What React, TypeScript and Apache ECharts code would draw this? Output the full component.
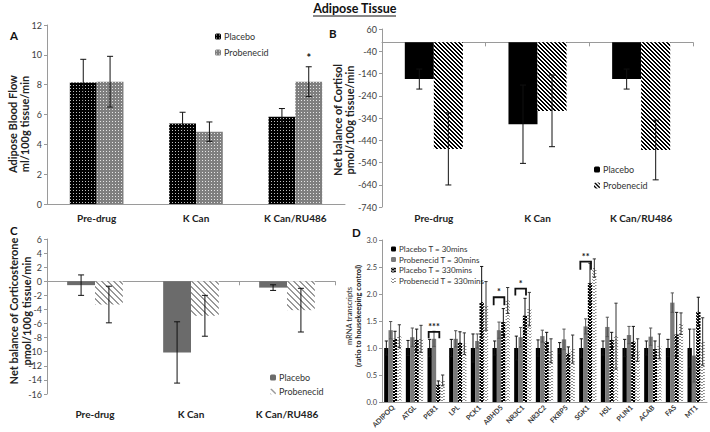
import React, { useEffect, useRef } from 'react';
import * as echarts from 'echarts';

const FONT = 'Lato';

// Panels A–C: treatment groups
const groups = ['Pre-drug', 'K Can', 'K Can/RU486'];

// A: Adipose blood flow (ml/100g tissue/min)
const flowPlacebo = [8.15, 5.4, 5.85];
const flowPlaceboErr = [1.55, 0.75, 0.55];
const flowProbenecid = [8.2, 4.85, 8.2];
const flowProbenecidErr = [1.7, 0.65, 1.0];

// B: Net balance of cortisol (pmol/100g tissue/min)
const cortisolPlacebo = [-165, -368, -165];
const cortisolPlaceboErr = [45, 176, 45];
const cortisolProbenecid = [-479, -308, -484];
const cortisolProbenecidErr = [162, 161, 134];

// C: Net balance of corticosterone (pmol/100g tissue/min)
const corticoPlacebo = [-0.55, -10.1, -0.9];
const corticoPlaceboErr = [1.45, 4.35, 0.4];
const corticoProbenecid = [-3.3, -4.9, -4.1];
const corticoProbenecidErr = [2.6, 2.9, 3.1];

// D: mRNA transcripts (ratio to housekeeping control)
const genes = ['ADIPOQ', 'ATGL', 'PER1', 'LPL', 'PCK1', 'ABHD5', 'NR3C1', 'NR3C2', 'FKBP5', 'SGK1', 'HSL', 'PLIN1', 'ACAB', 'FAS', 'MT1'];
const placebo30 = [1, 1, 1, 1, 1, 1, 1, 1, 1, 1, 1, 1, 1, 1, 1];
const placebo30Err = [0.13, 0.14, 0.16, 0.16, 0.26, 0.13, 0.22, 0.15, 0.1, 0.17, 0.13, 0.16, 0.13, 0.16, 0.35];
const probenecid30 = [1.33, 1.2, 1.17, 1.17, 1.13, 1.33, 1.2, 1.22, 1.16, 1.4, 1.39, 1.24, 1.21, 1.84, 0.86];
const probenecid30Err = [0.16, 0.17, 0.14, 0.15, 0.13, 0.15, 0.18, 0.11, 0.19, 0.14, 0.18, 0.16, 0.16, 0.18, 0.49];
const placebo330 = [1.17, 1.15, 0.32, 1.1, 1.85, 1.48, 1.6, 1.12, 0.9, 2.2, 1.15, 1.12, 0.98, 1.25, 1.67];
const placebo330Err = [0.14, 0.2, 0.07, 0.2, 0.66, 0.25, 0.32, 0.17, 0.12, 0.37, 0.14, 0.28, 0.15, 0.41, 0.27];
const probenecid330 = [1.22, 1.17, 0.4, 1.08, 1.78, 1.88, 1.72, 0.95, 0.98, 2.48, 1.22, 0.96, 1.03, 1.45, 1.12];
const probenecid330Err = [0.21, 0.25, 0.1, 0.2, 0.45, 0.24, 0.31, 0.22, 0.26, 0.17, 0.61, 0.21, 0.23, 0.2, 0.44];

// significance brackets (placebo T=30 vs placebo T=330)
const sigGeneIndex = [2, 5, 6, 9];
const sigTop = [1.3, 1.94, 2.1, 2.6];
const sigLeg = [1.18, 1.79, 1.97, 2.45];
const sigLabels = ['***', '*', '*', '**'];

// panel A asterisk
const flowSigGroup = [2];
const flowSigY = [9.45];
const flowSigLabel = ['*'];

function makePattern(w: number, h: number, bg: string, fg: string, on: (x: number, y: number) => boolean) {
  const c = document.createElement('canvas');
  c.width = w;
  c.height = h;
  const ctx = c.getContext('2d')!;
  ctx.fillStyle = bg;
  ctx.fillRect(0, 0, w, h);
  ctx.fillStyle = fg;
  for (let y = 0; y < h; y++) for (let x = 0; x < w; x++) if (on(x, y)) ctx.fillRect(x, y, 1, 1);
  return { image: c as any, repeat: 'repeat' as const };
}

function errorSeries(xIdx: number, yIdx: number, items: number[][], nBars: number, frac: number, cap: number, colors: string[]) {
  return {
    type: 'custom',
    xAxisIndex: xIdx,
    yAxisIndex: yIdx,
    z: 10,
    silent: true,
    data: items,
    renderItem: (params: any, api: any) => {
      const cat = api.value(0);
      const val = api.value(1);
      const err = api.value(2);
      const bi = api.value(3);
      const color = colors[api.value(4)];
      const band = api.size([1, 0])[0];
      const base = api.coord([cat, val]);
      const x = base[0] + (bi - (nBars - 1) / 2) * band * frac;
      const yT = api.coord([cat, val + err])[1];
      const yB = api.coord([cat, val - err])[1];
      const style = { stroke: color, lineWidth: 1 };
      return {
        type: 'group',
        children: [
          { type: 'line', shape: { x1: x, y1: yT, x2: x, y2: yB }, style },
          { type: 'line', shape: { x1: x - cap, y1: yT, x2: x + cap, y2: yT }, style },
          { type: 'line', shape: { x1: x - cap, y1: yB, x2: x + cap, y2: yB }, style },
        ],
      };
    },
  };
}

function buildErr(vals: number[], errs: number[], bi: number, ci: number) {
  return vals.map((v, i) => [i, v, errs[i], bi, ci]);
}

function vText(text: string, x: number, y: number, size: number, weight: string) {
  return {
    type: 'text', x, y, rotation: Math.PI / 2,
    style: { text, fontFamily: FONT, fontWeight: weight, fontSize: size, fill: '#222', align: 'center', verticalAlign: 'middle' },
  };
}

function buildOption() {
  const dotsBlack = makePattern(3, 3, '#000000', 'rgba(255,255,255,0.75)', (x, y) => x === 1 && y === 1);
  const dotsGray = makePattern(3, 3, '#7f7f7f', 'rgba(255,255,255,0.8)', (x, y) => x === 1 && y === 1);
  const stripesBlack = makePattern(4, 4, '#ffffff', '#000000', (x, y) => (((x - y) % 4) + 4) % 4 < 2);
  const stripesGray = makePattern(6, 6, '#ffffff', '#999999', (x, y) => (((x - y) % 6) + 6) % 6 < 2);
  const chev = [0, 1, 1, 0];
  const chevBlack = makePattern(4, 3, '#ffffff', '#000000', (x, y) => (((y - chev[x]) % 3) + 3) % 3 < 2);
  const chevGray = makePattern(4, 3, '#ffffff', '#8a8a8a', (x, y) => (((y - chev[x]) % 3) + 3) % 3 < 1);

  const axisGray = '#9a9a9a';
  const labelColor = '#404040';
  const catLabel = { fontFamily: FONT, fontWeight: 'bold' as const, fontSize: 10, color: '#222' };
  const legendFormatter = (name: string) => name.split('|')[1];

  const yCommon = (gridIndex: number, min: number, max: number, interval: number) => ({
    type: 'value',
    gridIndex,
    min,
    max,
    interval,
    splitLine: { show: false },
    axisLine: { show: true, lineStyle: { color: axisGray } },
    axisTick: { show: true, length: 3, lineStyle: { color: axisGray } },
    axisLabel: { fontFamily: FONT, fontSize: gridIndex === 3 ? 7.5 : 9, color: labelColor, margin: 5, formatter: gridIndex === 3 ? (v: number) => v.toFixed(1) : undefined },
  });

  return {
    animation: false,
    backgroundColor: '#ffffff',
    textStyle: { fontFamily: FONT },
    grid: [
      { left: 47, top: 25, width: 298, height: 179 },
      { left: 382, top: 29, width: 311, height: 178 },
      { left: 47, top: 239, width: 288, height: 155 },
      { left: 382, top: 240, width: 325, height: 162 },
    ],
    xAxis: [
      {
        type: 'category', gridIndex: 0, data: groups,
        axisLine: { lineStyle: { color: axisGray } },
        axisTick: { length: 4, lineStyle: { color: axisGray } },
        axisLabel: { ...catLabel, margin: 9 },
      },
      {
        type: 'category', gridIndex: 1, data: groups, position: 'bottom',
        axisLine: { show: false, onZero: false },
        axisTick: { show: false },
        axisLabel: { ...catLabel, margin: 6 },
      },
      {
        type: 'category', gridIndex: 1, data: groups, position: 'top',
        axisLine: { show: true, onZero: true, lineStyle: { color: axisGray } },
        axisTick: { show: true, inside: true, length: 4, lineStyle: { color: axisGray } },
        axisLabel: { show: false },
      },
      {
        type: 'category', gridIndex: 2, data: groups, position: 'bottom',
        axisLine: { show: false, onZero: false },
        axisTick: { show: false },
        axisLabel: { ...catLabel, margin: 15 },
      },
      {
        type: 'category', gridIndex: 2, data: groups, position: 'top',
        axisLine: { show: true, onZero: true, lineStyle: { color: axisGray } },
        axisTick: { show: true, inside: true, length: 4, lineStyle: { color: axisGray } },
        axisLabel: { show: false },
      },
      {
        type: 'category', gridIndex: 3, data: genes,
        axisLine: { lineStyle: { color: axisGray } },
        axisTick: { length: 3, lineStyle: { color: axisGray } },
        axisLabel: { fontFamily: FONT, fontWeight: 'bold', fontSize: 7, color: '#333', rotate: 45, interval: 0, margin: 4 },
      },
    ],
    yAxis: [
      yCommon(0, 0, 12, 2),
      yCommon(1, -740, 60, 100),
      yCommon(2, -16, 6, 2),
      yCommon(3, 0, 3, 0.5),
    ],
    legend: [
      {
        data: ['A|Placebo', 'A|Probenecid'], orient: 'vertical', left: 210, top: 27,
        itemWidth: 6, itemHeight: 6, itemGap: 7, formatter: legendFormatter, selectedMode: false,
        textStyle: { fontFamily: FONT, fontSize: 9, color: '#333', padding: [0, 0, 0, -2] },
      },
      {
        data: ['B|Placebo', 'B|Probenecid'], orient: 'vertical', left: 589, top: 160,
        itemWidth: 6, itemHeight: 6, itemGap: 7, formatter: legendFormatter, selectedMode: false,
        textStyle: { fontFamily: FONT, fontSize: 9, color: '#333', padding: [0, 0, 0, -2] },
      },
      {
        data: ['C|Placebo', 'C|Probenecid'], orient: 'vertical', left: 265, top: 368,
        itemWidth: 6, itemHeight: 6, itemGap: 5, formatter: legendFormatter, selectedMode: false,
        textStyle: { fontFamily: FONT, fontSize: 9, color: '#333', padding: [0, 0, 0, -2] },
      },
      {
        data: ['D|Placebo T = 30mins', 'D|Probenecid T = 30mins', 'D|Placebo T = 330mins', 'D|Probenecid T = 330mins'],
        orient: 'vertical', left: 386, top: 240,
        itemWidth: 5, itemHeight: 5, itemGap: 2.5, formatter: legendFormatter, selectedMode: false,
        textStyle: { fontFamily: FONT, fontSize: 8, color: '#333', padding: [0, 0, 0, -2] },
      },
    ],
    graphic: [
      { type: 'text', left: 'center', top: 2, style: { text: 'Adipose Tissue', fontFamily: FONT, fontWeight: 'bold', fontSize: 12.5, fill: '#111' } },
      { type: 'line', shape: { x1: 313, y1: 16, x2: 396, y2: 16 }, style: { stroke: '#111', lineWidth: 1 } },
      { type: 'text', x: 10, y: 29, style: { text: 'A', fontFamily: FONT, fontWeight: 'bold', fontSize: 11.5, fill: '#111' } },
      { type: 'text', x: 329, y: 27, style: { text: 'B', fontFamily: FONT, fontWeight: 'bold', fontSize: 11.5, fill: '#111' } },
      { type: 'text', x: 10, y: 224, style: { text: 'C', fontFamily: FONT, fontWeight: 'bold', fontSize: 11.5, fill: '#111' } },
      { type: 'text', x: 352, y: 226, style: { text: 'D', fontFamily: FONT, fontWeight: 'bold', fontSize: 11.5, fill: '#111' } },
      vText('Adipose Blood Flow', 12, 124, 11, 'bold'),
      vText('ml/100g tissue/min', 24, 124, 11, 'bold'),
      vText('Net balance of Cortisol', 337, 120, 11, 'bold'),
      vText('pmol/100g tissue/min', 349, 120, 11, 'bold'),
      vText('Net balance of Corticosterone', 13, 311, 11, 'bold'),
      vText('pmol/100g tissue/min', 26, 311, 11, 'bold'),
      vText('mRNA transcripts', 349, 316, 7.5, 'normal'),
      vText('(ratio to housekeeping control)', 358, 316, 7.5, 'bold'),
    ],
    series: [
      // A
      { name: 'A|Placebo', type: 'bar', xAxisIndex: 0, yAxisIndex: 0, barWidth: '27%', barGap: '0%', data: flowPlacebo, itemStyle: { color: dotsBlack } },
      { name: 'A|Probenecid', type: 'bar', xAxisIndex: 0, yAxisIndex: 0, barWidth: '27%', barGap: '0%', data: flowProbenecid, itemStyle: { color: dotsGray } },
      errorSeries(0, 0, [...buildErr(flowPlacebo, flowPlaceboErr, 0, 0), ...buildErr(flowProbenecid, flowProbenecidErr, 1, 0)], 2, 0.27, 3, ['#111']),
      {
        type: 'custom', xAxisIndex: 0, yAxisIndex: 0, z: 11, silent: true,
        data: flowSigGroup.map((g, i) => [g, flowSigY[i], i]),
        renderItem: (params: any, api: any) => {
          const band = api.size([1, 0])[0];
          const p = api.coord([api.value(0), api.value(1)]);
          return { type: 'text', x: p[0] + 0.5 * 0.27 * band, y: p[1], style: { text: flowSigLabel[api.value(2)], fontFamily: FONT, fontSize: 11, fontWeight: 'bold', fill: '#111', align: 'center', verticalAlign: 'bottom' } };
        },
      },
      // B
      { name: 'B|Placebo', type: 'bar', xAxisIndex: 1, yAxisIndex: 1, barWidth: '28%', barGap: '0%', data: cortisolPlacebo, itemStyle: { color: '#000000' } },
      { name: 'B|Probenecid', type: 'bar', xAxisIndex: 1, yAxisIndex: 1, barWidth: '28%', barGap: '0%', data: cortisolProbenecid, itemStyle: { color: stripesBlack } },
      errorSeries(1, 1, [...buildErr(cortisolPlacebo, cortisolPlaceboErr, 0, 0), ...buildErr(cortisolProbenecid, cortisolProbenecidErr, 1, 0)], 2, 0.28, 3, ['#111']),
      // C
      { name: 'C|Placebo', type: 'bar', xAxisIndex: 3, yAxisIndex: 2, barWidth: '29%', barGap: '0%', data: corticoPlacebo, itemStyle: { color: '#6b6b6b' } },
      { name: 'C|Probenecid', type: 'bar', xAxisIndex: 3, yAxisIndex: 2, barWidth: '29%', barGap: '0%', data: corticoProbenecid, itemStyle: { color: stripesGray } },
      errorSeries(3, 2, [...buildErr(corticoPlacebo, corticoPlaceboErr, 0, 0), ...buildErr(corticoProbenecid, corticoProbenecidErr, 1, 0)], 2, 0.29, 3, ['#111']),
      // D
      { name: 'D|Placebo T = 30mins', type: 'bar', xAxisIndex: 5, yAxisIndex: 3, barWidth: '20%', barGap: '0%', data: placebo30, itemStyle: { color: '#000000' } },
      { name: 'D|Probenecid T = 30mins', type: 'bar', xAxisIndex: 5, yAxisIndex: 3, barWidth: '20%', barGap: '0%', data: probenecid30, itemStyle: { color: '#7a7a7a' } },
      { name: 'D|Placebo T = 330mins', type: 'bar', xAxisIndex: 5, yAxisIndex: 3, barWidth: '20%', barGap: '0%', data: placebo330, itemStyle: { color: chevBlack } },
      { name: 'D|Probenecid T = 330mins', type: 'bar', xAxisIndex: 5, yAxisIndex: 3, barWidth: '20%', barGap: '0%', data: probenecid330, itemStyle: { color: chevGray } },
      errorSeries(5, 3, [
        ...buildErr(placebo30, placebo30Err, 0, 0),
        ...buildErr(probenecid30, probenecid30Err, 1, 1),
        ...buildErr(placebo330, placebo330Err, 2, 0),
        ...buildErr(probenecid330, probenecid330Err, 3, 2),
      ], 4, 0.2, 1.6, ['#111', '#555', '#333']),
      {
        type: 'custom', xAxisIndex: 5, yAxisIndex: 3, z: 11, silent: true,
        data: sigGeneIndex.map((g, i) => [g, sigTop[i], sigLeg[i], i]),
        renderItem: (params: any, api: any) => {
          const g = api.value(0);
          const band = api.size([1, 0])[0];
          const top = api.coord([g, api.value(1)]);
          const leg = api.coord([g, api.value(2)])[1];
          const x0 = top[0] - 1.5 * 0.2 * band - 1;
          const x2 = top[0] + 0.5 * 0.2 * band + 1;
          return {
            type: 'group',
            children: [
              { type: 'polyline', shape: { points: [[x0, leg], [x0, top[1]], [x2, top[1]], [x2, leg]] }, style: { stroke: '#111', lineWidth: 1.8, fill: 'none' } },
              { type: 'text', x: (x0 + x2) / 2, y: top[1] - 1, style: { text: sigLabels[api.value(3)], fontFamily: FONT, fontSize: 9, fontWeight: 'bold', fill: '#111', align: 'center', verticalAlign: 'bottom' } },
            ],
          };
        },
      },
    ],
  };
}

export default function App() {
  const ref = useRef<HTMLDivElement>(null);
  useEffect(() => {
    const chart = echarts.init(ref.current!, null, { renderer: 'svg' });
    chart.setOption(buildOption() as any);
    return () => chart.dispose();
  }, []);
  return <div ref={ref} style={{ position: 'fixed', left: 0, top: 0, width: 710, height: 432, background: '#fff' }} />;
}
